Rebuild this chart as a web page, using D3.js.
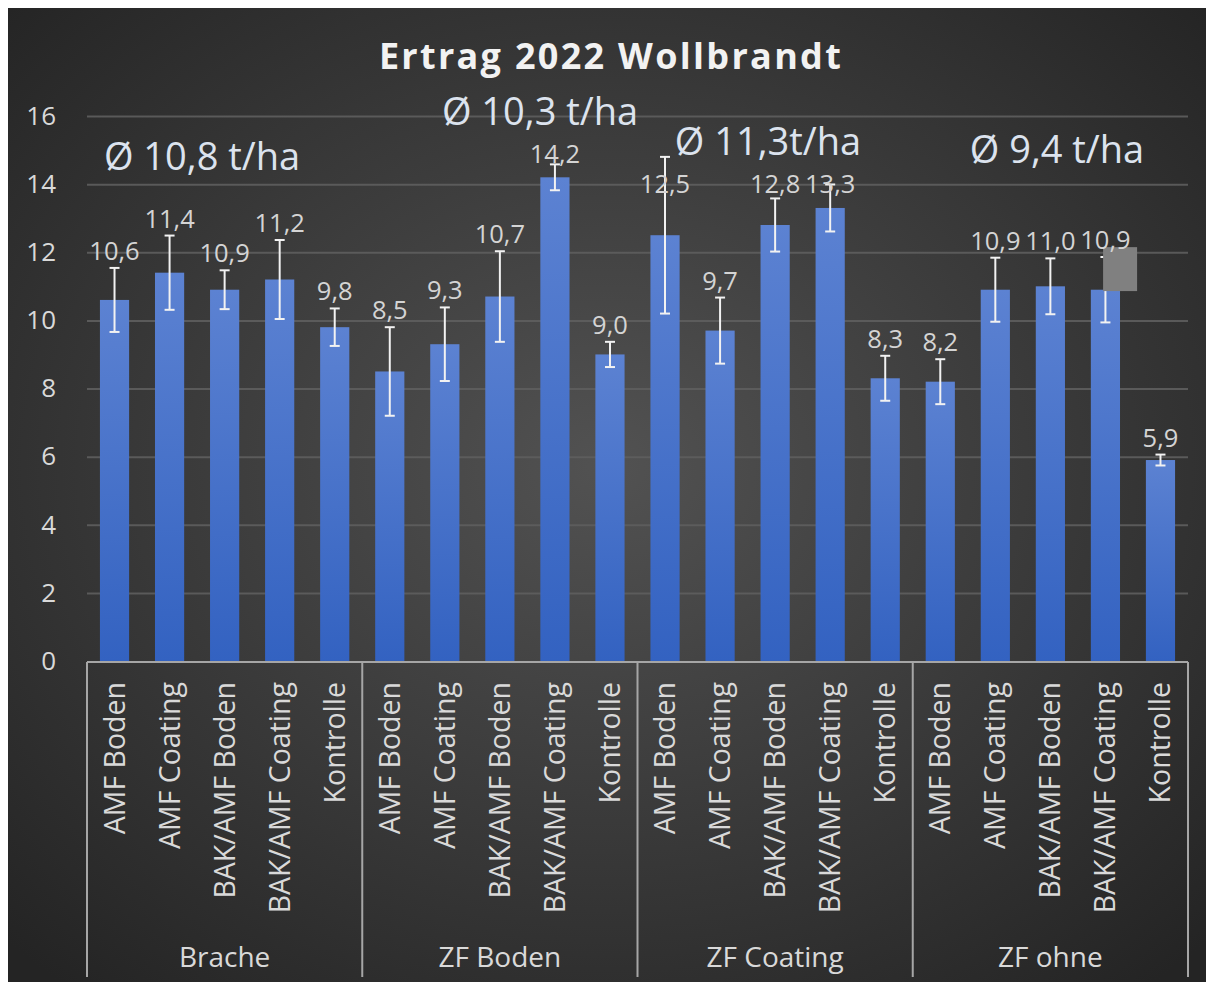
<!DOCTYPE html>
<html>
<head>
<meta charset="utf-8">
<script src="https://cdn.jsdelivr.net/npm/d3@7"></script>
<style>
  body { margin: 0; background: #ffffff; }
  text { font-family: "Open Sans", "Noto Sans", sans-serif; }
</style>
</head>
<body>
<div id="chart"></div>
<script>
// data
const groups = ["Brache", "ZF Boden", "ZF Coating", "ZF ohne"];
const treatments = ["AMF Boden", "AMF Coating", "BAK/AMF Boden", "BAK/AMF Coating", "Kontrolle"];
const yields = [10.6, 11.4, 10.9, 11.2, 9.8,
                8.5, 9.3, 10.7, 14.2, 9.0,
                12.5, 9.7, 12.8, 13.3, 8.3,
                8.2, 10.9, 11.0, 10.9, 5.9];
const errors = [0.94, 1.09, 0.57, 1.16, 0.55,
                1.3, 1.08, 1.33, 0.38, 0.37,
                2.3, 0.97, 0.78, 0.69, 0.66,
                0.66, 0.94, 0.82, 0.96, 0.16];
const averages = ["Ø 10,8 t/ha", "Ø 10,3 t/ha", "Ø 11,3t/ha", "Ø 9,4 t/ha"];
const yTicks = [0, 2, 4, 6, 8, 10, 12, 14, 16];

// one entry per bar
const bars = [];
groups.forEach((g, gi) => {
    treatments.forEach((t, ti) => {
        const i = gi * treatments.length + ti;
        bars.push({id: i, group: g, name: t, value: yields[i], err: errors[i]});
    });
});

const W = 1212, H = 987;
const plot = {left: 87, right: 1188, top: 116, bottom: 661};

const svg = d3.select("#chart").append("svg")
    .attr("width", W)
    .attr("height", H);

const defs = svg.append("defs");
const bg = defs.append("radialGradient").attr("id", "bg")
    .attr("cx", "50%").attr("cy", "47%").attr("r", "70%");
bg.append("stop").attr("offset", "0%").attr("stop-color", "#525252");
bg.append("stop").attr("offset", "100%").attr("stop-color", "#242424");

const barGrad = defs.append("linearGradient").attr("id", "barGrad")
    .attr("x1", 0).attr("y1", 0).attr("x2", 0).attr("y2", 1);
barGrad.append("stop").attr("offset", "0%").attr("stop-color", "#5c82d2");
barGrad.append("stop").attr("offset", "100%").attr("stop-color", "#3362c1");

// chart background
svg.append("rect")
    .attr("x", 8).attr("y", 8)
    .attr("width", 1198).attr("height", 974)
    .attr("fill", "url(#bg)");

//scales
const x = d3.scaleBand()
    .domain(bars.map(d => d.id))
    .range([plot.left, plot.right])
    .paddingInner(0.47)
    .paddingOuter(0.235);
// category units -> pixels, used for free text placement
const xUnit = d3.scaleLinear().domain([0, bars.length]).range([plot.left, plot.right]);
const y = d3.scaleLinear().domain([0, 16]).range([plot.bottom, plot.top]);
const cx = d => x(d.id) + x.bandwidth() / 2;

//grid lines
const yAxis = d3.axisLeft(y)
    .tickValues(yTicks)
    .tickSize(-(plot.right - plot.left))
    .tickPadding(31)
    .tickFormat(d3.format("d"));
const yAxisG = svg.append("g")
    .attr("transform", `translate(${plot.left},0)`)
    .call(yAxis);
yAxisG.select(".domain").remove();
yAxisG.selectAll(".tick line")
    .attr("stroke", "#5e5e5e")
    .attr("stroke-width", 2)
    .attr("stroke-opacity", d => d === 0 ? 0 : 0.9);
yAxisG.selectAll(".tick text")
    .attr("fill", "#d9d9d9")
    .attr("font-size", 26)
    .attr("font-family", "Open Sans");

//bars
svg.selectAll("rect.bar")
    .data(bars)
    .enter()
    .append("rect")
    .attr("class", "bar")
    .attr("x", d => x(d.id))
    .attr("width", x.bandwidth())
    .attr("y", d => y(d.value))
    .attr("height", d => y(0) - y(d.value))
    .attr("fill", "url(#barGrad)");

//error bars
const eb = svg.selectAll("g.err")
    .data(bars)
    .enter()
    .append("g")
    .attr("class", "err")
    .attr("stroke", "#f2f2f2")
    .attr("stroke-width", 2);
eb.append("line")
    .attr("x1", cx).attr("x2", cx)
    .attr("y1", d => y(d.value + d.err))
    .attr("y2", d => y(d.value - d.err));
eb.append("line")
    .attr("x1", d => cx(d) - 5).attr("x2", d => cx(d) + 5)
    .attr("y1", d => y(d.value + d.err))
    .attr("y2", d => y(d.value + d.err));
eb.append("line")
    .attr("x1", d => cx(d) - 5).attr("x2", d => cx(d) + 5)
    .attr("y1", d => y(d.value - d.err))
    .attr("y2", d => y(d.value - d.err));

// grey box left over on the 4th "ZF ohne" bar
const boxBar = bars[18];
svg.append("rect")
    .attr("x", x(boxBar.id) + x.bandwidth() * 0.42)
    .attr("y", y(12.15))
    .attr("width", 34)
    .attr("height", y(10.86) - y(12.15))
    .attr("fill", "#808080");

//averages (text boxes, placed in category units / y values)
const avgPos = [[2.09, 14.42], [8.23, 15.74], [12.37, 14.86], [17.62, 14.62]];
const avgText = svg.selectAll("text.avg")
    .data(averages)
    .enter()
    .append("text")
    .attr("class", "avg")
    .attr("x", (d, i) => xUnit(avgPos[i][0]))
    .attr("y", (d, i) => y(avgPos[i][1]))
    .attr("text-anchor", "middle")
    .attr("fill", "#dce3ee")
    .attr("font-size", 38)
    .text(d => d);
const avgBoxes = [];
avgText.each(function () { avgBoxes.push(this.getBBox()); });

//data labels, pushed below an average text if they run into it
const fmt = v => d3.format(".1f")(v).replace(".", ",");
const labels = svg.selectAll("text.val")
    .data(bars)
    .enter()
    .append("text")
    .attr("class", "val")
    .attr("x", cx)
    .attr("y", d => y(d.value + d.err) - 8)
    .attr("text-anchor", "middle")
    .attr("fill", "#d4d4d4")
    .attr("font-size", 25.5)
    .text(d => fmt(d.value))
    .each(function () {
        const b = this.getBBox();
        avgBoxes.forEach(a => {
            const hit = b.x < a.x + a.width && b.x + b.width > a.x &&
                        b.y < a.y + a.height && b.y + b.height > a.y;
            if (hit) {
                const shift = a.y + a.height - b.y;
                d3.select(this).attr("y", +d3.select(this).attr("y") + shift);
            }
        });
    });

// spread neighbouring labels sideways if they touch
const nodes = labels.nodes();
for (let k = 0; k < 4; k++) {
    for (let i = 1; i < nodes.length; i++) {
        const a = nodes[i - 1].getBBox(), b = nodes[i].getBBox();
        const over = a.x + a.width + 3 - b.x;
        if (over > 0 && a.y < b.y + b.height && b.y < a.y + a.height) {
            d3.select(nodes[i - 1]).attr("x", +nodes[i - 1].getAttribute("x") - over / 2);
            d3.select(nodes[i]).attr("x", +nodes[i].getAttribute("x") + over / 2);
        }
    }
}

//x axis lines
svg.append("line")
    .attr("x1", plot.left).attr("x2", plot.right)
    .attr("y1", plot.bottom + 1).attr("y2", plot.bottom + 1)
    .attr("stroke", "#a6a6a6").attr("stroke-width", 2);
const sepIdx = d3.range(groups.length + 1);
svg.selectAll("line.sep")
    .data(sepIdx)
    .enter()
    .append("line")
    .attr("class", "sep")
    .attr("x1", d => xUnit(d * treatments.length))
    .attr("x2", d => xUnit(d * treatments.length))
    .attr("y1", plot.bottom + 1)
    .attr("y2", 977)
    .attr("stroke", "#a6a6a6").attr("stroke-width", 2);

//category labels
svg.selectAll("text.cat")
    .data(bars)
    .enter()
    .append("text")
    .attr("class", "cat")
    .attr("transform", d => `translate(${cx(d) + 10},682) rotate(-90)`)
    .attr("text-anchor", "end")
    .attr("fill", "#d9d9d9")
    .attr("font-size", 28.5)
    .text(d => d.name);

//group labels
svg.selectAll("text.grp")
    .data(groups)
    .enter()
    .append("text")
    .attr("class", "grp")
    .attr("x", (d, i) => xUnit((i + 0.5) * treatments.length))
    .attr("y", 967)
    .attr("text-anchor", "middle")
    .attr("fill", "#d9d9d9")
    .attr("font-size", 28)
    .text(d => d);

//title
svg.append("text")
    .attr("x", 611)
    .attr("y", 69)
    .attr("text-anchor", "middle")
    .attr("fill", "#f2f2f2")
    .attr("font-size", 36)
    .attr("font-weight", "bold")
    .attr("letter-spacing", 2.3)
    .text("Ertrag 2022 Wollbrandt");
</script>
</body>
</html>
